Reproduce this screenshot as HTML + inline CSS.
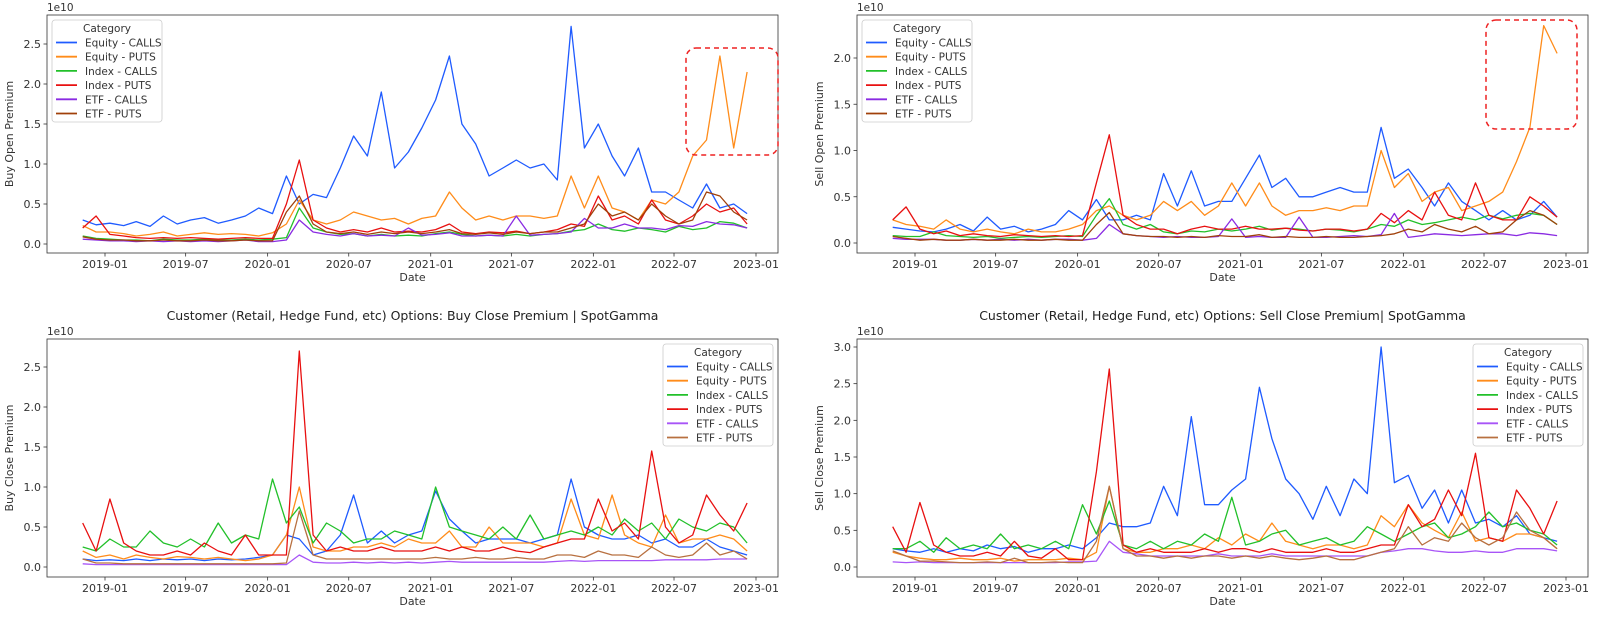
<!DOCTYPE html>
<html><head><meta charset="utf-8">
<style>
body{margin:0;background:#fff;width:1600px;height:612px;overflow:hidden;font-family:"Liberation Sans","DejaVu Sans",sans-serif;}
svg text{font-family:"DejaVu Sans","Liberation Sans",sans-serif;}
</style></head>
<body>
<svg id="fig" width="1600" height="612" xmlns="http://www.w3.org/2000/svg"></svg>
<script>
// monthly dates 2018-11 .. 2022-12
const dates = [];
for (let i = 0; i < 50; i++) { dates.push(new Date(Date.UTC(2018, 10 + i, 12))); }
const seriesNames = ["Equity - CALLS","Equity - PUTS","Index - CALLS","Index - PUTS","ETF - CALLS","ETF - PUTS"];
const xTickLabels = ["2019-01","2019-07","2020-01","2020-07","2021-01","2021-07","2022-01","2022-07","2023-01"];
// values in units of 1e9
const buyOpenEqC = [3.0,2.4, 2.6,2.3,2.8,2.2,3.5,2.5,3.0,3.3,2.6,3.0,3.5,4.5, 3.8,8.5,5.0,6.2,5.8,9.5,13.5,11.0,19.0,9.5,11.5,14.5, 18.0,23.5,15.0,12.5,8.5,9.5,10.5,9.5,10.0,8.0,27.2,12.0, 15.0,11.0,8.5,12.0,6.5,6.5,5.5,4.5,7.5,4.5,5.0,3.8];
const buyOpenEqP = [2.3,1.5, 1.5,1.3,1.0,1.2,1.5,1.0,1.2,1.4,1.2,1.3,1.2,1.0, 1.4,2.5,5.5,3.0,2.5,3.0,4.0,3.5,3.0,3.2,2.5,3.2, 3.5,6.5,4.5,3.0,3.5,3.0,3.5,3.5,3.2,3.5,8.5,4.5, 8.5,4.5,4.0,3.0,5.5,5.0,6.5,11.0,13.0,23.5,12.0,21.5];
const buyOpenIdxC = [1.0,0.7, 0.6,0.5,0.5,0.4,0.6,0.5,0.5,0.6,0.5,0.5,0.6,0.5, 0.6,0.8,4.5,2.0,1.5,1.2,1.3,1.0,1.2,1.0,1.1,1.0, 1.3,1.5,1.2,1.0,1.1,1.0,1.2,1.0,1.2,1.3,1.6,1.8, 2.5,1.8,1.6,2.0,1.8,1.5,2.2,1.8,2.0,2.8,2.6,2.0];
const buyOpenIdxP = [2.0,3.5, 1.2,1.0,0.8,0.7,0.8,0.7,0.8,0.7,0.6,0.7,0.8,0.7, 0.7,5.0,10.5,3.0,2.0,1.5,1.8,1.5,2.0,1.5,1.6,1.5, 1.8,2.5,1.5,1.3,1.5,1.4,1.6,1.3,1.5,1.8,2.5,2.2, 6.0,3.0,3.5,2.5,5.5,3.0,2.5,3.5,5.0,4.0,4.5,2.5];
const buyOpenEtfC = [0.6,0.5, 0.4,0.4,0.3,0.4,0.3,0.4,0.3,0.4,0.3,0.4,0.5,0.3, 0.3,0.5,3.0,1.5,1.2,1.0,1.3,1.0,1.1,1.0,2.0,1.1, 1.2,1.4,1.0,1.0,1.1,1.0,3.5,1.1,1.2,1.3,1.5,3.2, 2.0,2.0,2.5,2.0,2.0,1.8,2.3,2.2,2.8,2.5,2.4,2.0];
const buyOpenEtfP = [0.9,0.6, 0.5,0.5,0.4,0.4,0.5,0.4,0.4,0.5,0.4,0.4,0.5,0.4, 0.4,4.0,6.0,2.5,1.5,1.3,1.5,1.2,1.5,1.3,1.5,1.3, 1.5,1.8,1.3,1.2,1.4,1.2,1.5,1.3,1.5,1.5,2.0,2.5, 5.0,3.5,4.0,3.0,5.0,3.5,2.5,3.0,6.5,6.0,4.0,3.0];

const sellOpenEqC = [1.7,1.5, 1.3,1.2,1.5,2.0,1.3,2.8,1.5,1.8,1.2,1.5,2.0,3.5, 2.5,4.7,2.5,2.5,3.0,2.5,7.5,4.0,7.8,4.0,4.5,4.5, 7.0,9.5,6.0,7.0,5.0,5.0,5.5,6.0,5.5,5.5,12.5,7.0, 8.0,6.0,4.0,6.5,4.5,3.5,2.5,3.5,2.5,3.0,4.5,2.8];
const sellOpenEqP = [2.5,2.0, 1.8,1.5,2.5,1.5,1.2,1.5,1.2,1.0,1.5,1.2,1.2,1.5, 2.0,3.5,4.0,3.0,2.5,3.0,4.5,3.5,4.5,3.0,4.0,6.5, 4.0,6.5,4.0,3.0,3.5,3.5,3.8,3.5,4.0,4.0,10.0,6.0, 7.5,4.5,5.5,6.0,3.5,4.0,4.5,5.5,8.8,12.5,23.5,20.5];
const sellOpenIdxC = [0.8,0.7, 0.7,1.2,0.8,0.7,0.6,0.7,0.5,0.6,0.7,0.6,0.7,0.8, 0.7,3.0,4.8,2.0,1.5,2.0,1.2,1.0,1.3,1.2,1.5,1.3, 1.5,1.8,1.4,1.6,1.5,1.3,1.5,1.4,1.2,1.5,2.0,1.8, 2.5,2.0,2.2,2.5,2.8,2.5,3.0,2.6,3.0,3.2,3.0,2.0];
const sellOpenIdxP = [2.5,3.9, 1.5,1.0,1.3,0.8,1.0,0.8,0.7,0.9,0.8,0.7,0.8,0.7, 0.8,6.5,11.7,3.0,2.0,1.5,1.5,1.0,1.5,1.8,1.5,1.5, 1.8,1.5,1.5,1.6,1.4,1.3,1.5,1.5,1.3,1.5,3.2,2.2, 3.5,2.5,5.5,3.0,2.5,6.5,3.0,2.5,2.5,5.0,4.0,2.8];
const sellOpenEtfC = [0.5,0.4, 0.4,0.4,0.3,0.3,0.4,0.3,0.4,0.3,0.4,0.3,0.4,0.4, 0.3,0.5,2.0,1.0,0.8,0.7,0.6,0.7,0.6,0.6,0.7,2.6, 0.6,0.7,0.6,0.6,2.8,0.6,0.6,0.7,0.8,0.7,0.9,3.2, 0.6,0.8,1.0,0.9,0.8,0.9,1.0,1.0,0.8,1.1,1.0,0.8];
const sellOpenEtfP = [0.7,0.5, 0.3,0.4,0.3,0.3,0.4,0.3,0.3,0.4,0.3,0.3,0.4,0.3, 0.3,2.0,3.3,1.0,0.8,0.7,0.7,0.6,0.7,0.6,0.8,0.7, 0.7,0.9,0.6,0.7,0.6,0.6,0.7,0.6,0.6,0.7,0.8,1.0, 1.5,1.2,2.0,1.5,1.2,1.8,1.0,1.2,2.5,3.5,3.0,2.0];

const buyCloseEqC = [1.0,0.8, 0.9,0.8,1.0,0.8,1.0,0.9,1.0,0.8,1.0,0.9,1.0,1.2, 1.5,4.0,3.5,1.5,2.0,4.0,9.0,3.0,4.5,3.0,4.0,4.5, 9.5,6.0,4.5,3.0,3.5,3.5,3.5,3.0,3.5,4.0,11.0,5.0, 4.0,3.5,3.5,4.0,3.0,3.5,2.5,2.5,3.5,2.5,2.0,1.5];
const buyCloseEqP = [2.0,1.2, 1.5,1.0,1.5,1.2,1.0,1.3,1.2,1.0,1.2,1.0,0.8,1.0, 1.5,4.0,10.0,2.5,2.0,2.0,2.5,2.5,3.0,2.5,3.5,3.0, 3.0,4.5,2.5,2.5,5.0,3.0,3.0,3.0,2.5,3.0,8.5,4.0, 3.5,9.0,4.0,3.0,2.5,6.5,3.0,3.5,3.5,4.0,3.5,2.0];
const buyCloseIdxC = [2.5,2.0, 3.5,2.5,2.5,4.5,3.0,2.5,3.5,2.5,5.5,3.0,4.0,3.5, 11.0,5.5,7.5,3.0,5.5,4.5,3.0,3.5,3.5,4.5,4.0,3.5, 10.0,5.0,4.5,4.0,3.5,5.0,3.5,6.5,3.5,4.0,4.5,4.0, 5.0,4.0,6.0,4.5,5.5,3.5,6.0,5.0,4.5,5.5,5.0,3.0];
const buyCloseIdxP = [5.5,2.0, 8.5,3.0,2.0,1.5,1.5,2.0,1.5,3.0,2.0,1.5,4.0,1.5, 1.5,1.5,27.0,4.0,2.0,2.5,2.0,2.0,2.5,2.0,2.0,2.0, 2.5,2.0,2.5,2.0,2.0,2.5,2.0,1.8,2.5,3.0,3.5,3.5, 8.5,4.5,5.5,3.5,14.5,5.0,3.0,4.0,9.0,6.5,4.5,8.0];
const buyCloseEtfC = [0.4,0.3, 0.3,0.3,0.3,0.3,0.3,0.3,0.3,0.3,0.3,0.3,0.3,0.3, 0.3,0.3,1.5,0.6,0.5,0.5,0.6,0.5,0.6,0.5,0.6,0.5, 0.6,0.7,0.6,0.6,0.6,0.6,0.6,0.6,0.6,0.7,0.8,0.7, 0.8,0.8,0.8,0.8,0.8,0.9,0.9,0.9,0.9,1.0,1.0,1.0];
const buyCloseEtfP = [1.0,0.5, 0.5,0.4,0.4,0.4,0.4,0.4,0.4,0.4,0.4,0.4,0.4,0.4, 0.4,0.5,7.0,1.5,1.0,1.0,1.0,1.0,1.0,1.0,1.0,1.0, 1.2,1.0,1.0,1.2,1.0,1.0,1.2,1.0,1.0,1.5,1.5,1.2, 2.0,1.5,1.5,1.2,2.5,1.5,1.2,1.5,3.0,1.5,2.0,1.0];

const sellCloseEqC = [2.5,2.2, 2.0,2.5,2.0,2.5,2.2,3.0,2.5,2.8,2.0,2.5,2.5,3.0, 2.5,4.0,6.0,5.5,5.5,6.0,11.0,7.0,20.5,8.5,8.5,10.5, 12.0,24.5,17.5,12.0,10.0,6.5,11.0,7.0,12.0,10.0,30.0,11.5, 12.5,8.0,10.5,6.0,10.5,6.0,6.5,5.5,7.0,4.5,4.0,3.5];
const sellCloseEqP = [2.0,1.5, 1.2,1.0,1.0,1.2,1.0,1.0,1.2,0.8,1.0,1.0,1.0,1.2, 1.0,2.0,11.0,2.5,2.0,2.0,2.5,2.5,3.0,2.5,4.0,3.0, 4.5,3.5,6.0,3.5,3.0,2.5,3.0,3.0,2.5,3.0,7.0,5.5, 8.5,6.0,5.0,4.0,7.5,3.5,4.0,3.5,4.5,4.5,4.0,2.5];
const sellCloseIdxC = [2.5,2.5, 3.5,2.0,4.0,2.5,3.0,2.5,4.5,2.5,3.0,2.5,3.5,2.5, 8.5,4.5,9.0,3.0,2.5,3.5,2.5,3.5,3.0,4.5,3.5,9.5, 3.0,3.5,4.5,5.0,3.0,3.5,4.0,3.0,3.5,5.5,4.5,3.5, 4.5,5.5,6.0,4.0,4.5,5.5,7.5,5.5,6.0,5.0,4.5,3.0];
const sellCloseIdxP = [5.5,2.0, 8.8,3.0,2.0,1.5,1.5,2.0,1.5,3.5,1.5,1.2,2.5,1.0, 1.0,13.0,27.0,3.0,2.0,2.5,2.0,2.0,2.0,2.5,2.0,2.5, 2.5,2.0,2.5,2.0,2.0,2.0,2.5,2.0,2.0,2.5,3.0,3.0, 8.5,5.5,6.5,10.5,7.0,15.5,4.0,3.5,10.5,8.0,4.5,9.0];
const sellCloseEtfC = [0.7,0.6, 0.7,0.6,0.6,0.6,0.6,0.6,0.6,0.6,0.6,0.6,0.6,0.7, 0.7,0.8,3.5,2.0,1.8,1.5,1.5,1.5,1.5,1.5,1.8,1.5, 1.5,1.5,1.8,1.5,1.5,1.5,1.5,1.5,1.5,1.5,2.0,2.2, 2.5,2.5,2.2,2.0,2.0,2.2,2.0,2.0,2.5,2.5,2.5,2.2];
const sellCloseEtfP = [2.2,1.5, 0.8,0.8,0.7,0.6,0.6,0.7,0.6,1.2,0.6,0.6,0.7,0.6, 0.6,3.5,11.0,2.5,1.5,1.5,1.2,1.5,1.2,1.5,1.5,1.2, 1.5,1.2,1.5,1.2,1.0,1.2,1.5,1.0,1.0,1.5,2.0,2.5, 5.5,3.0,4.0,3.5,6.0,4.0,3.0,4.0,7.5,5.0,4.0,2.5];

const colors = ["#1f5bff","#ff8c1a","#22c02a","#e81010","#8a2be2","#a0400a"];
const colorsBottom = ["#1f5bff","#ff8c1a","#22c02a","#e81010","#a855f7","#b87040"];

const NS = "http://www.w3.org/2000/svg";
const svg = document.getElementById("fig");
function mk(tag, attrs, parent) {
  const e = document.createElementNS(NS, tag);
  for (const k in attrs) e.setAttribute(k, attrs[k]);
  (parent || svg).appendChild(e);
  return e;
}
function txt(s, attrs, parent) { const t = mk("text", attrs, parent); t.textContent = s; return t; }

const panels = [
  {key:"buy-open", L:47,T:15,R:778,B:253, x0:105,x1:756, y0:244,yTop:44,vTop:25, yTicks:[0,0.5,1.0,1.5,2.0,2.5], ylab:"Buy Open Premium", title:"", legend:[52,20], series:[buyOpenEqC,buyOpenEqP,buyOpenIdxC,buyOpenIdxP,buyOpenEtfC,buyOpenEtfP], col:colors, box:[686,48,778,155]},
  {key:"sell-open", L:857,T:15,R:1588,B:253, x0:915,x1:1566, y0:243,yTop:58,vTop:20, yTicks:[0,0.5,1.0,1.5,2.0], ylab:"Sell Open Premium", title:"", legend:[862,20], series:[sellOpenEqC,sellOpenEqP,sellOpenIdxC,sellOpenIdxP,sellOpenEtfC,sellOpenEtfP], col:colors, box:[1486,20,1577,129]},
  {key:"buy-close", L:47,T:339,R:778,B:577, x0:105,x1:756, y0:567,yTop:367,vTop:25, yTicks:[0,0.5,1.0,1.5,2.0,2.5], ylab:"Buy Close Premium", title:"Customer (Retail, Hedge Fund, etc) Options: Buy Close Premium | SpotGamma", legend:[663,344], series:[buyCloseEqC,buyCloseEqP,buyCloseIdxC,buyCloseIdxP,buyCloseEtfC,buyCloseEtfP], col:colorsBottom},
  {key:"sell-close", L:857,T:339,R:1588,B:577, x0:915,x1:1566, y0:567,yTop:347,vTop:30, yTicks:[0,0.5,1.0,1.5,2.0,2.5,3.0], ylab:"Sell Close Premium", title:"Customer (Retail, Hedge Fund, etc) Options: Sell Close Premium| SpotGamma", legend:[1473,344], series:[sellCloseEqC,sellCloseEqP,sellCloseIdxC,sellCloseIdxP,sellCloseEtfC,sellCloseEtfP], col:colorsBottom}
];

const tStart = Date.UTC(2019,0,1), tEnd = Date.UTC(2023,0,1);
panels.forEach(p => {
  const g = mk("g", {});
  
  
  const xs = d => p.x0 + (d.getTime() - tStart) / (tEnd - tStart) * (p.x1 - p.x0);
  const ys = v => p.y0 - v / p.vTop * (p.y0 - p.yTop);
  const frame = mk("rect", {x:p.L, y:p.T, width:p.R-p.L, height:p.B-p.T, fill:"#fff", stroke:"#333", "stroke-width":0.8}, g);
  
  
  if (p.title) {
    const tt = txt(p.title, {x:(p.L+p.R)/2, y:320, "text-anchor":"middle", "font-size":12.5, fill:"#222"}, g);
    
    
  }
  const ex = txt("1e10", {x:p.L, y:p.T-4, "font-size":10.5, fill:"#333"}, g);
  
  
  p.yTicks.forEach(v => {
    const y = ys(v * 10);
    mk("line", {x1:p.L-3.5, x2:p.L, y1:y, y2:y, stroke:"#333", "stroke-width":0.8}, g);
    const t = txt(v.toFixed(1), {x:p.L-6, y:y+4, "text-anchor":"end", "font-size":11, fill:"#333"}, g);
    
    
  });
  xTickLabels.forEach(s => {
    const [yy, mm] = s.split("-").map(Number);
    const x = xs(new Date(Date.UTC(yy, mm-1, 1)));
    mk("line", {x1:x, x2:x, y1:p.B, y2:p.B+3.5, stroke:"#333", "stroke-width":0.8}, g);
    const t = txt(s, {x:x, y:p.B+15, "text-anchor":"middle", "font-size":11, fill:"#333"}, g);
    
    
  });
  const xl = txt("Date", {x:(p.L+p.R)/2, y:p.B+28, "text-anchor":"middle", "font-size":11, fill:"#333"}, g);
  
  
  const yc = (p.T+p.B)/2, yx = p.L-34;
  const yl = txt(p.ylab, {x:yx, y:yc, "text-anchor":"middle", "font-size":11, fill:"#333", transform:`rotate(-90 ${yx} ${yc})`}, g);
  
  
  p.series.forEach((arr, si) => {
    const d = arr.map((v, i) => (i ? "L" : "M") + xs(dates[i]).toFixed(1) + "," + ys(v).toFixed(1)).join(" ");
    const path = mk("path", {d:d, fill:"none", stroke:p.col[si], "stroke-width":1.3, "stroke-linejoin":"round"}, g);
    
    
  });
  if (p.box) {
    const b = mk("rect", {x:p.box[0], y:p.box[1], width:p.box[2]-p.box[0], height:p.box[3]-p.box[1], rx:10, fill:"none", stroke:"#ee2222", "stroke-width":1.5, "stroke-dasharray":"5,4"}, g);
    
    
  }
  const lx = p.legend[0], ly = p.legend[1], lw = 110, lh = 102;
  const lg = mk("g", {}, g);
  
  
  mk("rect", {x:lx, y:ly, width:lw, height:lh, rx:3, fill:"#fff", "fill-opacity":0.85, stroke:"#ccc", "stroke-width":0.8}, lg);
  txt("Category", {x:lx+lw/2, y:ly+12, "text-anchor":"middle", "font-size":10.5, fill:"#333"}, lg);
  seriesNames.forEach((n, i) => {
    const yy = ly + 26.5 + i * 14.2;
    const item = mk("g", {}, lg);
    
    
    mk("line", {x1:lx+4, x2:lx+25, y1:yy-4, y2:yy-4, stroke:p.col[i], "stroke-width":1.8}, item);
    txt(n, {x:lx+33, y:yy, "font-size":10.5, fill:"#333"}, item);
  });
});
</script>
</body></html>
